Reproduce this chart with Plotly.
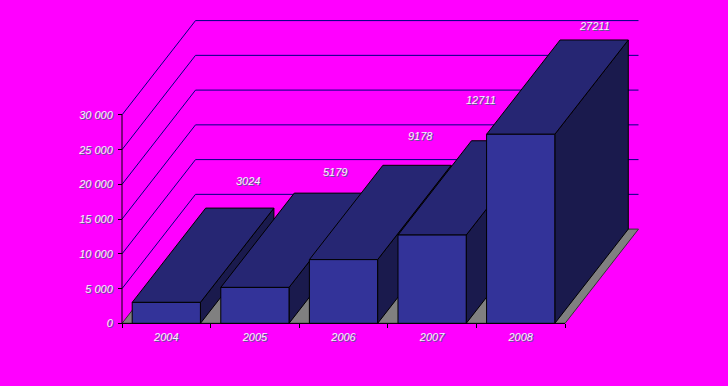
import plotly.graph_objects as go

# data
years = ["2004", "2005", "2006", "2007", "2008"]
values = [3024, 5179, 9178, 12711, 27211]
value_labels = ["3024", "5179", "9178", "12711", "27211"]
y_ticks = [0, 5000, 10000, 15000, 20000, 25000, 30000]
y_tick_text = ["0", "5 000", "10 000", "15 000", "20 000", "25 000", "30 000"]

# styles / layout constants
W, H = 728, 386
X0, PX_CAT = 122.0, 88.6
Y0, PX_VAL = 323.4, 0.00695
DX = 73.5 / PX_CAT
DV = 94.3 / PX_VAL
BAR_L, BAR_W = 0.115, 0.77
label_shift = [(8, 27), (7, 21), (3, 29), (-25, 41), (0, 14)]
BG, FRONT, TOP, SIDE, FLOOR = "#ff00ff", "#333399", "#262673", "#1a1a4d", "#808080"
GRID = "#000080"
FONT = dict(family="Liberation Sans", size=11, color="#f4f4ff", style="italic", shadow="1px 1px 0px #5a5a8c")

fig = go.Figure()

def poly(xs, ys, fill, line="#000000", width=1):
    fig.add_trace(go.Scatter(x=xs + xs[:1], y=ys + ys[:1], mode="lines", fill="toself",
                             fillcolor=fill, line=dict(color=line, width=width),
                             hoverinfo="skip", showlegend=False))

def line(xs, ys, color, width=1):
    fig.add_trace(go.Scatter(x=xs, y=ys, mode="lines", line=dict(color=color, width=width),
                             hoverinfo="skip", showlegend=False))

n = len(years)
# floor
poly([0, n, n + DX, DX], [0, 0, DV, DV], FLOOR, "#333333")
# walls: gridlines
for v in y_ticks[1:]:
    line([0, DX, n + DX], [v, v + DV, v + DV], GRID)

# bars, back-projected oblique
for i, v in enumerate(values):
    l, r = i + BAR_L, i + BAR_L + BAR_W
    poly([r, r + DX, r + DX, r], [0, DV, v + DV, v], SIDE)
    poly([l, r, r + DX, l + DX], [v, v, v + DV, v + DV], TOP)
    poly([l, r, r, l], [0, 0, v, v], FRONT)

# axis lines
line([0, 0], [0, y_ticks[-1]], "#000000")
line([0, n], [0, 0], "#000000")

annotations = [
    dict(x=i + BAR_L + BAR_W / 2 + DX, y=v + DV, text=t, showarrow=False,
         xshift=s[0], yshift=s[1], font=FONT)
    for i, (v, t, s) in enumerate(zip(values, value_labels, label_shift))
]

fig.update_layout(
    width=W, height=H, margin=dict(l=0, r=0, t=0, b=0), autosize=False,
    paper_bgcolor=BG, plot_bgcolor=BG, showlegend=False, annotations=annotations,
    xaxis=dict(range=[-X0 / PX_CAT, (W - X0) / PX_CAT], domain=[0, 1], showgrid=False, zeroline=False,
               showline=False, anchor="free", position=(H - Y0) / H, ticklabelstandoff=6,
               tickmode="array", tickvals=[i + 0.5 for i in range(n)], ticktext=years,
               ticks="", ticklen=0, tickfont=FONT,
               minor=dict(tickmode="array", tickvals=list(range(n + 1)), ticks="outside",
                          ticklen=4, tickcolor="#000000", showgrid=False)),
    yaxis=dict(range=[(Y0 - H) / PX_VAL, Y0 / PX_VAL], domain=[0, 1], showgrid=False, zeroline=False,
               showline=False, anchor="free", position=X0 / W, ticklabelstandoff=3,
               tickmode="array", tickvals=y_ticks, ticktext=y_tick_text,
               ticks="outside", ticklen=4, tickcolor="#000000", tickfont=FONT),
)
fig.write_html("out.html", config=dict(displayModeBar=False),
               post_script="document.body.style.margin='0';document.body.style.background='#ff00ff';document.body.style.overflow='hidden';")
